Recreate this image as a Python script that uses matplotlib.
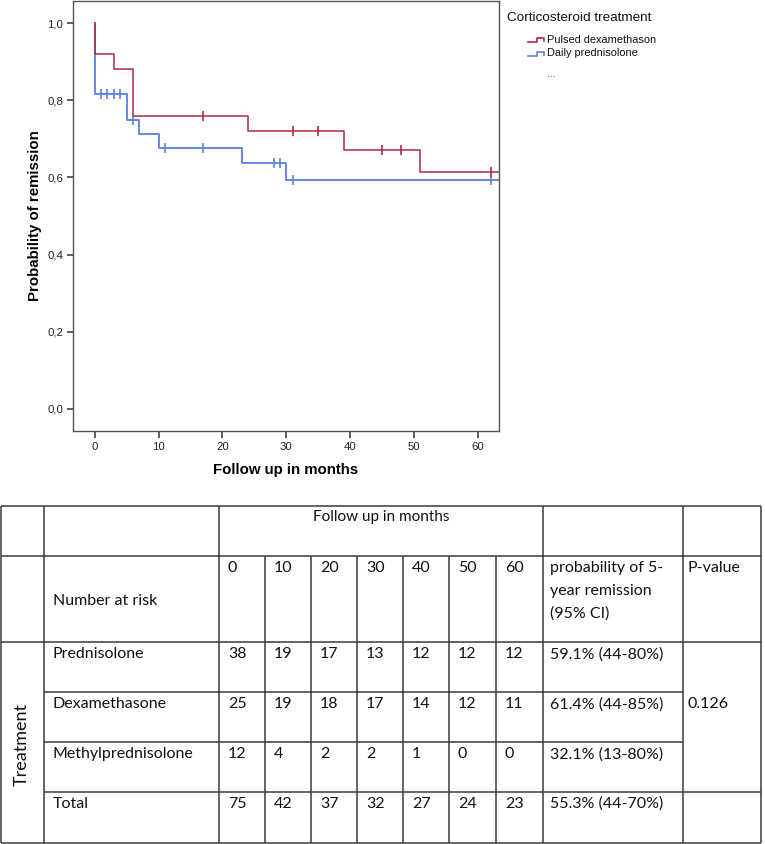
import matplotlib
matplotlib.use("Agg")
import matplotlib.pyplot as plt
import numpy as np

# ---------------- data ----------------
# Kaplan-Meier steps (time, survival) — step-post
dex_times = [0, 0, 3, 6, 24, 39, 51, 64]
dex_surv = [1.0, 0.92, 0.88, 0.76, 0.72, 0.67, 0.615, 0.615]
dex_cens = [17, 31, 35, 45, 48, 62]

pred_times = [0, 0, 5, 7, 10, 23, 30, 64]
pred_surv = [1.0, 0.816, 0.748, 0.712, 0.677, 0.637, 0.592, 0.592]
pred_cens = [1, 2, 3, 4, 6, 11, 17, 28, 29, 31, 62]

legend_title = "Corticosteroid treatment"
legend_labels = ["Pulsed dexamethason", "Daily prednisolone"]

yticks = [0.0, 0.2, 0.4, 0.6, 0.8, 1.0]
ytick_labels = ["0,0", "0,2", "0,4", "0,6", "0,8", "1,0"]
xticks = [0, 10, 20, 30, 40, 50, 60]

# table data
month_cols = ["0", "10", "20", "30", "40", "50", "60"]
row_names = ["Prednisolone", "Dexamethasone", "Methylprednisolone", "Total"]
at_risk = [
    [38, 19, 17, 13, 12, 12, 12],
    [25, 19, 18, 17, 14, 12, 11],
    [12, 4, 2, 2, 1, 0, 0],
    [75, 42, 37, 32, 27, 24, 23],
]
prob5 = ["59.1% (44-80%)", "61.4% (44-85%)", "32.1% (13-80%)", "55.3% (44-70%)"]
p_value = "0.126"

RED = "#b2283f"
BLUE = "#5b80dd"

W, H = 765, 844
fig = plt.figure(figsize=(W / 100, H / 100), dpi=100)


def fx(px):
    return px / W


def fy(py):
    return 1 - py / H


# ---------------- KM plot ----------------
L, R, T, B = 73, 499, 1, 431
ax = fig.add_axes([fx(L), fy(B), fx(R) - fx(L), fy(T) - fy(B)])
ax.set_xlim(-3.4, 63.3)
ax.set_ylim(-0.057, 1.057)


def surv_at(times, surv, t):
    s = surv[0]
    for ti, si in zip(times, surv):
        if ti <= t:
            s = si
    return s


ax.plot(pred_times, pred_surv, drawstyle="steps-post", color=BLUE, lw=1.3, zorder=2)
ax.plot(dex_times, dex_surv, drawstyle="steps-post", color=RED, lw=1.1, zorder=3)
ax.plot(pred_cens, [surv_at(pred_times, pred_surv, t) for t in pred_cens], ls="none",
        marker="|", ms=7, mew=1.2, color=BLUE, zorder=2)
ax.plot(dex_cens, [surv_at(dex_times, dex_surv, t) for t in dex_cens], ls="none",
        marker="|", ms=7, mew=1.2, color=RED, zorder=3)

ax.set_yticks(yticks)
ax.set_yticklabels(ytick_labels)
ax.set_xticks(xticks)
for s in ax.spines.values():
    s.set_color("#555555")
    s.set_linewidth(1.0)
ax.tick_params(axis="both", direction="out", length=5, width=1.1, color="#333333",
               labelsize=8.2, labelcolor="#222222", pad=3)
ax.tick_params(axis="y", length=4)
ax.set_xlabel("Follow up in months", fontsize=10.8, fontweight="bold",
              family="Liberation Sans", labelpad=8)
ax.set_ylabel("Probability of remission", fontsize=10.8, fontweight="bold",
              family="Liberation Sans", labelpad=4)
for lab in ax.get_xticklabels() + ax.get_yticklabels():
    lab.set_family("Liberation Sans")

# ---------------- legend (pixel overlay) ----------------
ov = fig.add_axes([0, 0, 1, 1], zorder=5)
ov.set_xlim(0, W)
ov.set_ylim(H, 0)
ov.axis("off")
ov.patch.set_alpha(0)

ov.text(507, 18, legend_title, fontsize=9.7, family="Liberation Sans",
        va="center", ha="left", color="#111111")
for i, (lab, col) in enumerate(zip(legend_labels, [RED, BLUE])):
    yc = 40 + i * 13.5
    ov.plot([528, 537, 537, 544, 544], [yc + 2, yc + 2, yc - 2, yc - 2, yc + 1],
            color=col, lw=1.2)
    ov.text(547, yc, lab, fontsize=7.9, family="Liberation Sans", va="center",
            ha="left", color="#111111")
ov.text(547, 74, "...", fontsize=7.5, family="Liberation Sans", va="center",
        ha="left", color="#333333")

# ---------------- table ----------------
LC = "#3a3a3a"
LW = 1.1
col_x = [0.8, 44, 219, 265, 311, 357, 403, 449, 496, 543, 683, 761]
row_y = [505.7, 555.7, 642.3, 692.3, 742.3, 791.7, 842.7]


def hline(y, x0, x1):
    ov.plot([x0, x1], [y, y], color=LC, lw=LW, solid_capstyle="butt")


def vline(x, y0, y1):
    ov.plot([x, x], [y0, y1], color=LC, lw=LW, solid_capstyle="butt")


hline(row_y[0], col_x[0], col_x[-1])
hline(row_y[1], col_x[0], col_x[-1])
hline(row_y[2], col_x[0], col_x[-1])
hline(row_y[3], col_x[1], col_x[10])
hline(row_y[4], col_x[1], col_x[10])
hline(row_y[5], col_x[1], col_x[-1])
hline(row_y[6], col_x[0], col_x[-1])
for i, x in enumerate(col_x):
    if 3 <= i <= 8:
        vline(x, row_y[1], row_y[6])
    else:
        vline(x, row_y[0], row_y[6])

TF = dict(family=["Lato", "DejaVu Sans"], fontsize=11.5, color="#111111", va="center")
PAD = 9

ov.text((col_x[2] + col_x[9]) / 2, row_y[0] + 11.5, "Follow up in months", ha="center",
        **{**TF, "fontsize": 11})
ov.text(col_x[1] + PAD, (row_y[1] + row_y[2]) / 2 + 2, "Number at risk", ha="left", **TF)
for j, m in enumerate(month_cols):
    ov.text(col_x[2 + j] + PAD, row_y[1] + 12, m, ha="left", **TF)
for k, line in enumerate(["probability of 5-", "year remission", "(95% CI)"]):
    ov.text(col_x[9] + 7, row_y[1] + 12 + k * 23, line, ha="left", **TF)
ov.text(col_x[10] + 5, row_y[1] + 12, "P-value", ha="left", **TF)

for r, name in enumerate(row_names):
    ytxt = row_y[2 + r] + 12
    ov.text(col_x[1] + PAD, ytxt, name, ha="left", **TF)
    for j, v in enumerate(at_risk[r]):
        ov.text(col_x[2 + j] + PAD, ytxt, str(v), ha="left", **TF)
    ov.text(col_x[9] + 7, ytxt, prob5[r], ha="left", **TF)
ov.text(col_x[10] + 5, row_y[3] + 12, p_value, ha="left", **TF)
ov.text(22, (row_y[2] + row_y[6]) / 2 + 2, "Treatment", ha="center", rotation=90,
        **{**TF, "fontsize": 13})

fig.savefig("out.png", dpi=100)
